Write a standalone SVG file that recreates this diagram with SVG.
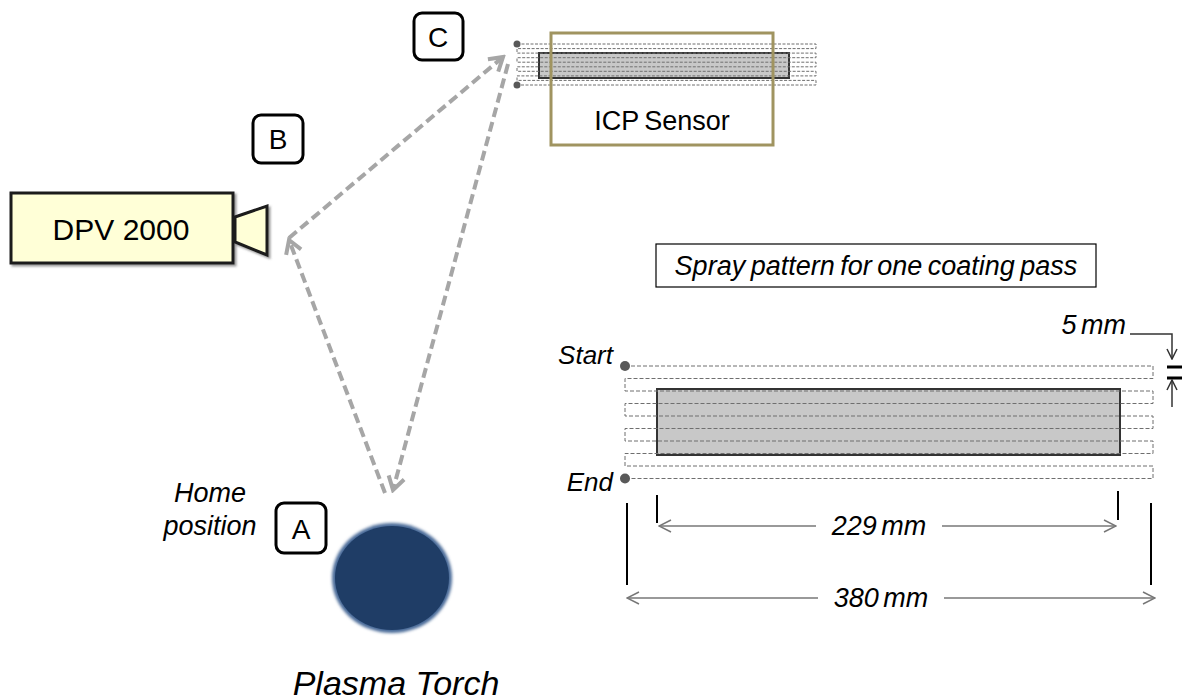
<svg xmlns="http://www.w3.org/2000/svg" width="1184" height="700" viewBox="0 0 1184 700">
  <defs>
    <style>
      text { font-family: "Liberation Sans", Arial, sans-serif; fill: #000; }
      .it { font-style: italic; }
      .tag { fill: #fff; stroke: #000; stroke-width: 3; }
      .path-move { fill: none; stroke: #a6a6a6; stroke-width: 4; stroke-dasharray: 10 5; }
      .raster { fill: none; stroke: #6f6f6f; stroke-width: 1; }
      .work { fill: #c8c8c8; stroke: #333; stroke-width: 2; }
      .dim { fill: none; stroke: #777; stroke-width: 1.5; }
      .tick { stroke: #000; stroke-width: 2; }
      .lbl { font-size: 27px; font-style: italic; word-spacing: -3px; }
    </style>
    <marker id="moveHead" viewBox="0 0 20 20" markerWidth="20" markerHeight="20" refX="17" refY="10" orient="auto" markerUnits="userSpaceOnUse">
      <path d="M4,2 L17,10 L4,18" fill="none" stroke="#a6a6a6" stroke-width="4"/>
    </marker>
    <marker id="dimHead" viewBox="0 0 14 14" markerWidth="14" markerHeight="14" refX="13" refY="7" orient="auto" markerUnits="userSpaceOnUse">
      <path d="M1,1 L13,7 L1,13" fill="none" stroke="#777" stroke-width="1.5"/>
    </marker>
    <marker id="gapHead" viewBox="0 0 12 12" markerWidth="12" markerHeight="12" refX="11" refY="6" orient="auto" markerUnits="userSpaceOnUse">
      <path d="M1,1 L11,6 L1,11" fill="none" stroke="#333" stroke-width="1.5"/>
    </marker>
    <filter id="soft" x="-20%" y="-20%" width="140%" height="140%">
      <feGaussianBlur stdDeviation="1.5"/>
    </filter>
    <filter id="shade" x="-5%" y="-10%" width="115%" height="130%">
      <feDropShadow dx="2" dy="2" stdDeviation="1" flood-color="#555" flood-opacity="0.6"/>
    </filter>
  </defs>

  <!-- ICP sensor with miniature raster pattern -->
  <g id="icp-sensor">
    <rect x="551" y="33" width="222" height="112" fill="#fff"/>
    <rect x="539" y="53" width="250" height="25" class="work" fill="#b8b8b8" stroke-width="1.5"/>
    <path class="raster" stroke-dasharray="3 1.5" d="M517,44 H816 V48.6 H517 V53.1 H816 V57.7 H517 V62.2 H816 V66.8 H517 V71.3 H816 V75.9 H517 V80.4 H816 V85 H517"/>
    <circle cx="517" cy="44" r="3.5" fill="#595959"/>
    <circle cx="517" cy="85" r="3.5" fill="#595959"/>
    <rect x="551" y="33" width="222" height="112" fill="none" stroke="#a09460" stroke-width="3"/>
    <text x="662" y="130" font-size="27" text-anchor="middle" word-spacing="-2">ICP Sensor</text>
  </g>

  <!-- DPV 2000 camera -->
  <g id="dpv-2000" filter="url(#shade)">
    <rect x="11" y="193" width="222" height="70" fill="#ffffd7" stroke="#1a1a1a" stroke-width="3"/>
    <polygon points="235,217 267,206 267,255 235,242" fill="#ffffd7" stroke="#1a1a1a" stroke-width="3"/>
  </g>
  <text x="121" y="240" font-size="30" text-anchor="middle">DPV 2000</text>

  <!-- Plasma torch -->
  <g id="plasma-torch">
    <ellipse cx="392" cy="578" rx="60" ry="55" fill="#4a6b98" filter="url(#soft)"/>
    <ellipse cx="392" cy="578" rx="57" ry="52" fill="#1f3d66"/>
    <text x="396" y="695" font-size="34" class="it" text-anchor="middle">Plasma Torch</text>
  </g>

  <!-- Position tags -->
  <g id="tag-a">
    <rect x="276" y="503" width="50" height="50" rx="8" class="tag"/>
    <text x="301" y="539" font-size="28" text-anchor="middle">A</text>
    <text x="210" y="502" font-size="27" class="it" text-anchor="middle">Home</text>
    <text x="210" y="535" font-size="27" class="it" text-anchor="middle">position</text>
  </g>
  <g id="tag-b">
    <rect x="253" y="115" width="50" height="48" rx="8" class="tag"/>
    <text x="278" y="149" font-size="28" text-anchor="middle">B</text>
  </g>
  <g id="tag-c">
    <rect x="414" y="13" width="49" height="47" rx="8" class="tag"/>
    <text x="438" y="47" font-size="28" text-anchor="middle">C</text>
  </g>

  <!-- Torch travel path -->
  <g id="connectors">
    <line x1="385" y1="493" x2="289" y2="240" class="path-move" marker-end="url(#moveHead)"/>
    <line x1="289" y1="238" x2="503" y2="57" class="path-move" marker-end="url(#moveHead)"/>
    <line x1="508" y1="64" x2="393" y2="490" class="path-move" marker-end="url(#moveHead)"/>
  </g>

  <!-- Spray pattern detail -->
  <g id="spray-title">
    <rect x="656" y="244" width="440" height="43" fill="#fff" stroke="#000" stroke-width="1.2"/>
    <text x="876" y="275" font-size="27" class="it" text-anchor="middle" word-spacing="-2">Spray pattern for one coating pass</text>
  </g>

  <g id="spray-pattern">
    <rect x="657" y="389" width="463" height="66" class="work"/>
    <path class="raster" stroke-dasharray="4 2" d="M625,366 H1153 V378.5 H625 V391 H1153 V403.5 H625 V416 H1153 V428.5 H625 V441 H1153 V453.5 H625 V466 H1153 V478.5 H625"/>
    <circle cx="625" cy="366" r="5" fill="#595959"/>
    <circle cx="625" cy="478.5" r="5" fill="#595959"/>
    <text x="613" y="364" font-size="26" class="it" text-anchor="end">Start</text>
    <text x="613" y="491" font-size="26" class="it" text-anchor="end">End</text>
  </g>

  <!-- Pass spacing -->
  <g id="dim-5mm">
    <text x="1126" y="334" class="lbl" text-anchor="end">5 mm</text>
    <path d="M1130,334 H1172 V359" fill="none" stroke="#333" stroke-width="1.5" marker-end="url(#gapHead)"/>
    <line x1="1167" y1="367" x2="1182" y2="367" stroke="#000" stroke-width="3"/>
    <line x1="1167" y1="378" x2="1182" y2="378" stroke="#000" stroke-width="3"/>
    <path d="M1172,407 V380" fill="none" stroke="#333" stroke-width="1.5" marker-end="url(#gapHead)"/>
  </g>

  <!-- Part width -->
  <g id="dim-229mm">
    <line x1="657" y1="495" x2="657" y2="523" class="tick"/>
    <line x1="1118" y1="491" x2="1118" y2="520" class="tick" stroke-width="3"/>
    <line x1="816" y1="526" x2="659" y2="526" class="dim" marker-end="url(#dimHead)"/>
    <line x1="942" y1="526" x2="1116" y2="526" class="dim" marker-end="url(#dimHead)"/>
    <text x="879" y="535" class="lbl" text-anchor="middle">229 mm</text>
  </g>

  <!-- Raster width -->
  <g id="dim-380mm">
    <line x1="627" y1="503" x2="627" y2="585" class="tick"/>
    <line x1="1151" y1="503" x2="1151" y2="585" class="tick"/>
    <line x1="818" y1="598" x2="627" y2="598" class="dim" marker-end="url(#dimHead)"/>
    <line x1="944" y1="598" x2="1155" y2="598" class="dim" marker-end="url(#dimHead)"/>
    <text x="881" y="607" class="lbl" text-anchor="middle">380 mm</text>
  </g>
</svg>
